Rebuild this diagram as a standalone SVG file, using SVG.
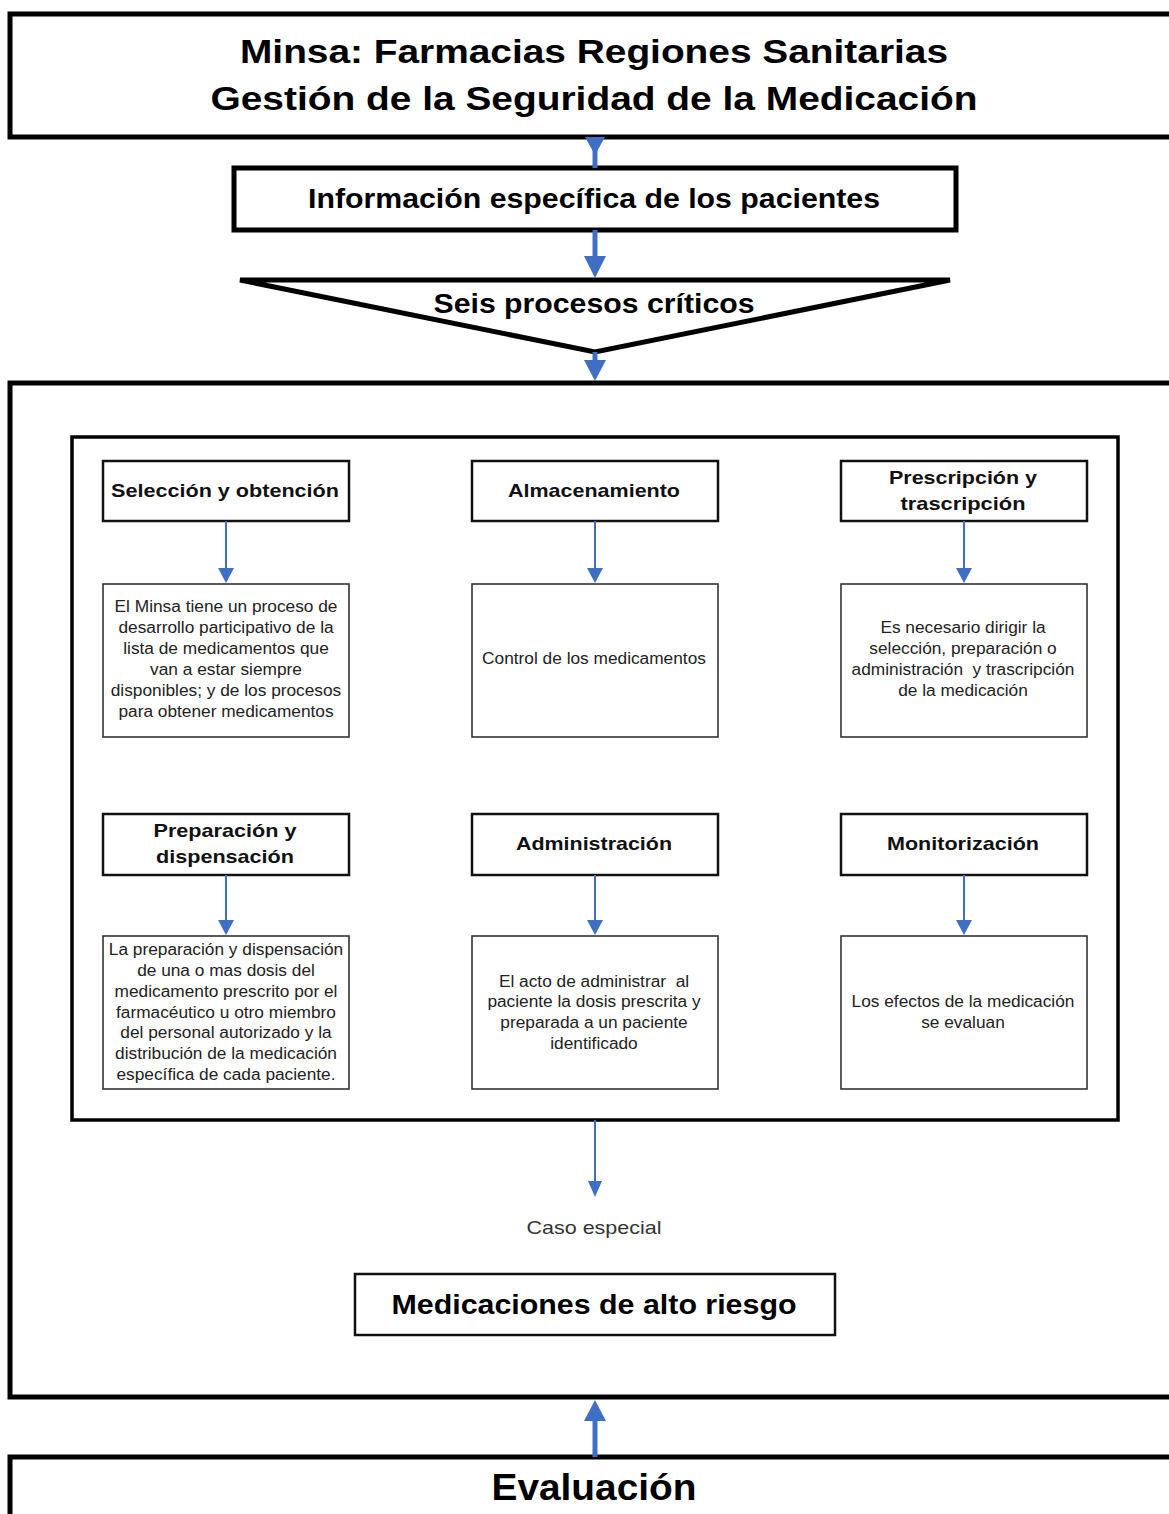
<svg xmlns="http://www.w3.org/2000/svg" width="1169" height="1514" viewBox="0 0 1169 1514">
<style>
.big{fill:#fff;stroke:#000;stroke-width:5}
.inner{fill:none;stroke:#000;stroke-width:3.5}
.hdr{fill:#fff;stroke:#111;stroke-width:2.5}
.desc{fill:#fff;stroke:#333;stroke-width:1.6}
.t1{font-family:"Liberation Sans",Arial,sans-serif;font-weight:bold;fill:#000;text-anchor:middle}
.th{font-family:"Liberation Sans",Arial,sans-serif;font-weight:bold;font-size:19px;fill:#111;text-anchor:middle}
.td{font-family:"Liberation Sans",Arial,sans-serif;font-size:17.3px;fill:#222;text-anchor:middle}
.thick{stroke:#3F6FC4;stroke-width:5;fill:none}
.thin{stroke:#3F6FC4;stroke-width:2;fill:none}
.head{fill:#3F6FC4}
</style>
<rect width="1169" height="1514" fill="#fff"/>

<g id="n-titulo">
<rect class="big" x="10" y="14" width="1200" height="123"/>
<text class="t1" x="594" y="63" font-size="34" textLength="708" lengthAdjust="spacingAndGlyphs">Minsa: Farmacias Regiones Sanitarias</text>
<text class="t1" x="594" y="110" font-size="34" textLength="767" lengthAdjust="spacingAndGlyphs">Gestión de la Seguridad de la Medicación</text>
</g>

<g id="n-info">
<rect class="big" x="234" y="168" width="722" height="62"/>
<text class="t1" x="594" y="208" font-size="27" textLength="572" lengthAdjust="spacingAndGlyphs">Información específica de los pacientes</text>
</g>

<g id="n-seis">
<polygon class="big" points="240,280 950,280 595,352" stroke-linejoin="miter"/>
<text class="t1" x="594" y="313" font-size="27" textLength="321" lengthAdjust="spacingAndGlyphs">Seis procesos críticos</text>
</g>

<g id="n-contenedor">
<rect class="big" x="10" y="383" width="1200" height="1014"/>
</g>

<g id="n-procesos">
<rect class="inner" x="72" y="437" width="1046" height="683"/>
</g>

<g id="n-seleccion">
<rect class="hdr" x="103" y="461" width="246" height="60"/>
<text class="th" x="225" y="497" textLength="228" lengthAdjust="spacingAndGlyphs">Selección y obtención</text>
</g>
<g id="n-seleccion-desc">
<rect class="desc" x="103" y="584" width="246" height="153"/>
<text class="td" x="226"><tspan x="226" y="612">El Minsa tiene un proceso de</tspan><tspan x="226" y="633">desarrollo participativo de la</tspan><tspan x="226" y="654">lista de medicamentos que</tspan><tspan x="226" y="675">van a estar siempre</tspan><tspan x="226" y="696">disponibles; y de los procesos</tspan><tspan x="226" y="717">para obtener medicamentos</tspan></text>
</g>

<g id="n-almacenamiento">
<rect class="hdr" x="472" y="461" width="246" height="60"/>
<text class="th" x="594" y="497" textLength="172" lengthAdjust="spacingAndGlyphs">Almacenamiento</text>
</g>
<g id="n-almacenamiento-desc">
<rect class="desc" x="472" y="584" width="246" height="153"/>
<text class="td" x="594" y="664">Control de los medicamentos</text>
</g>

<g id="n-prescripcion">
<rect class="hdr" x="841" y="461" width="246" height="60"/>
<text class="th"><tspan x="963" y="484" textLength="148" lengthAdjust="spacingAndGlyphs">Prescripción y</tspan></text>
<text class="th"><tspan x="963" y="510" textLength="125" lengthAdjust="spacingAndGlyphs">trascripción</tspan></text>
</g>
<g id="n-prescripcion-desc">
<rect class="desc" x="841" y="584" width="246" height="153"/>
<text class="td" x="963"><tspan x="963" y="633">Es necesario dirigir la</tspan><tspan x="963" y="654">selección, preparación o</tspan></text>
<text class="td" x="963" y="675" xml:space="preserve">administración  y trascripción</text>
<text class="td" x="963" y="696">de la medicación</text>
</g>

<g id="n-preparacion">
<rect class="hdr" x="103" y="814" width="246" height="61"/>
<text class="th"><tspan x="225" y="837" textLength="143" lengthAdjust="spacingAndGlyphs">Preparación y</tspan></text>
<text class="th"><tspan x="225" y="863" textLength="138" lengthAdjust="spacingAndGlyphs">dispensación</tspan></text>
</g>
<g id="n-preparacion-desc">
<rect class="desc" x="103" y="936" width="246" height="153"/>
<text class="td" x="226"><tspan x="226" y="955">La preparación y dispensación</tspan><tspan x="226" y="976">de una o mas dosis del</tspan><tspan x="226" y="997">medicamento prescrito por el</tspan><tspan x="226" y="1018">farmacéutico u otro miembro</tspan><tspan x="226" y="1038">del personal autorizado y la</tspan><tspan x="226" y="1059">distribución de la medicación</tspan><tspan x="226" y="1080">específica de cada paciente.</tspan></text>
</g>

<g id="n-administracion">
<rect class="hdr" x="472" y="814" width="246" height="61"/>
<text class="th" x="594" y="850" textLength="156" lengthAdjust="spacingAndGlyphs">Administración</text>
</g>
<g id="n-administracion-desc">
<rect class="desc" x="472" y="936" width="246" height="153"/>
<text class="td" x="594" y="987" xml:space="preserve">El acto de administrar  al</text>
<text class="td" x="594"><tspan x="594" y="1007">paciente la dosis prescrita y</tspan><tspan x="594" y="1028">preparada a un paciente</tspan><tspan x="594" y="1049">identificado</tspan></text>
</g>

<g id="n-monitorizacion">
<rect class="hdr" x="841" y="814" width="246" height="61"/>
<text class="th" x="963" y="850" textLength="152" lengthAdjust="spacingAndGlyphs">Monitorización</text>
</g>
<g id="n-monitorizacion-desc">
<rect class="desc" x="841" y="936" width="246" height="153"/>
<text class="td" x="963"><tspan x="963" y="1007">Los efectos de la medicación</tspan><tspan x="963" y="1028">se evaluan</tspan></text>
</g>

<g id="n-caso">
<text x="594" y="1234" font-family="Liberation Sans, Arial, sans-serif" font-size="19" fill="#333" text-anchor="middle" textLength="135" lengthAdjust="spacingAndGlyphs">Caso especial</text>
</g>

<g id="n-alto-riesgo">
<rect class="hdr" x="355" y="1274" width="480" height="61"/>
<text class="t1" x="594" y="1314" font-size="28" textLength="405" lengthAdjust="spacingAndGlyphs">Medicaciones de alto riesgo</text>
</g>

<g id="n-evaluacion">
<rect class="big" x="10" y="1457" width="1200" height="100"/>
<text class="t1" x="594" y="1500" font-size="36" textLength="205" lengthAdjust="spacingAndGlyphs">Evaluación</text>
</g>

<g id="connectors">
<line class="thick" x1="595" y1="150" x2="595" y2="168"/>
<polygon class="head" points="585,137 605,137 595,155"/>
<line class="thick" x1="595" y1="230" x2="595" y2="260"/>
<polygon class="head" points="584,256 606,256 595,278"/>
<line class="thick" x1="595" y1="352" x2="595" y2="362"/>
<polygon class="head" points="584,360 606,360 595,381"/>
<line class="thin" x1="226" y1="521" x2="226" y2="570"/>
<polygon class="head" points="218,568 234,568 226,583"/>
<line class="thin" x1="595" y1="521" x2="595" y2="570"/>
<polygon class="head" points="587,568 603,568 595,583"/>
<line class="thin" x1="964" y1="521" x2="964" y2="570"/>
<polygon class="head" points="956,568 972,568 964,583"/>
<line class="thin" x1="226" y1="875" x2="226" y2="922"/>
<polygon class="head" points="218,920 234,920 226,935"/>
<line class="thin" x1="595" y1="875" x2="595" y2="922"/>
<polygon class="head" points="587,920 603,920 595,935"/>
<line class="thin" x1="964" y1="875" x2="964" y2="922"/>
<polygon class="head" points="956,920 972,920 964,935"/>
<line class="thin" x1="595" y1="1120" x2="595" y2="1183"/>
<polygon class="head" points="588,1181 602,1181 595,1197"/>
<line class="thick" x1="595" y1="1457" x2="595" y2="1418"/>
<polygon class="head" points="584,1421 606,1421 595,1400"/>
</g>
</svg>
